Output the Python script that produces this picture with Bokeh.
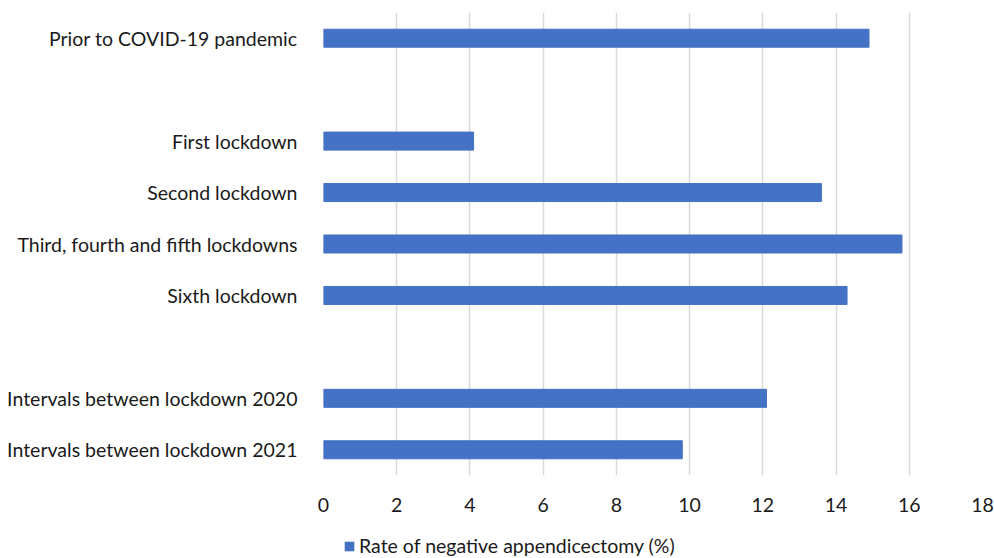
from bokeh.plotting import figure
from bokeh.models import FactorRange, Range1d, Legend, LegendItem, ColumnDataSource
from bokeh.layouts import column
from bokeh.embed import file_html
from bokeh.resources import INLINE

# Categories top to bottom (blank strings are spacer rows)
categories = [
    "Prior to COVID-19 pandemic",
    " ",
    "First lockdown",
    "Second lockdown",
    "Third, fourth and fifth lockdowns",
    "Sixth lockdown",
    "  ",
    "Intervals between lockdown 2020",
    "Intervals between lockdown 2021",
]
rates = [14.9, 0, 4.1, 13.6, 15.8, 14.3, 0, 12.1, 9.8]
x_ticks = [0, 2, 4, 6, 8, 10, 12, 14, 16, 18]
series_name = "Rate of negative appendicectomy (%)"

bar_cats = [c for c, v in zip(categories, rates) if c.strip()]
bar_vals = [v for c, v in zip(categories, rates) if c.strip()]
src = ColumnDataSource(dict(cat=bar_cats, val=bar_vals))

FONT = "Lato"
TXT = "#1a1a1a"
FS = "19.5px"
BAR = "#4472C4"

p = figure(
    width=994, height=518,
    frame_width=659, frame_height=463,
    y_range=FactorRange(factors=list(reversed(categories)), range_padding=0),
    x_range=(0, 18),
    output_backend="svg", toolbar_location=None,
    min_border_left=323, min_border_right=12, min_border_top=12, min_border_bottom=43,
)
r = p.hbar(y="cat", right="val", left=0, height=0.35, source=src,
           fill_color=BAR, line_color=BAR)

p.outline_line_color = None
p.ygrid.grid_line_color = None
p.xgrid.grid_line_color = "#d9d9d9"
p.xgrid.grid_line_width = 1.5
p.xaxis.ticker = x_ticks
p.xaxis.axis_line_color = None
p.xaxis.major_tick_line_color = None
p.xaxis.minor_tick_line_color = None
p.xaxis.major_label_text_font = FONT
p.xaxis.major_label_text_font_size = FS
p.xaxis.major_label_text_color = TXT
p.xaxis.major_label_standoff = 16
p.yaxis.axis_line_color = None
p.yaxis.major_tick_line_color = None
p.yaxis.major_label_text_font = FONT
p.yaxis.major_label_text_font_size = FS
p.yaxis.major_label_text_color = TXT
p.yaxis.major_label_standoff = 20

# Legend strip below the chart (its zero-height bars are invisible; only the swatch shows)
p2 = figure(
    width=994, height=40,
    y_range=FactorRange(factors=list(reversed(categories))),
    x_range=Range1d(0, 18),
    output_backend="svg", toolbar_location=None,
    x_axis_location=None, y_axis_location=None,
    min_border=0,
)
p2.grid.visible = False
p2.outline_line_color = None
r2 = p2.hbar(y="cat", right="val", left=0, height=0, source=src,
             fill_color=BAR, line_color=BAR, line_alpha=0)
legend = Legend(items=[LegendItem(label=series_name, renderers=[r2])],
                orientation="horizontal", location=(20, 1),
                label_text_font=FONT, label_text_font_size=FS,
                label_text_color=TXT, glyph_width=12, glyph_height=12,
                label_standoff=4, border_line_color=None,
                background_fill_alpha=0, padding=0, margin=0,
                label_height=20)
p2.add_layout(legend, "center")

layout = column(p, p2, spacing=0)
open("out.html", "w").write(file_html(layout, INLINE))
